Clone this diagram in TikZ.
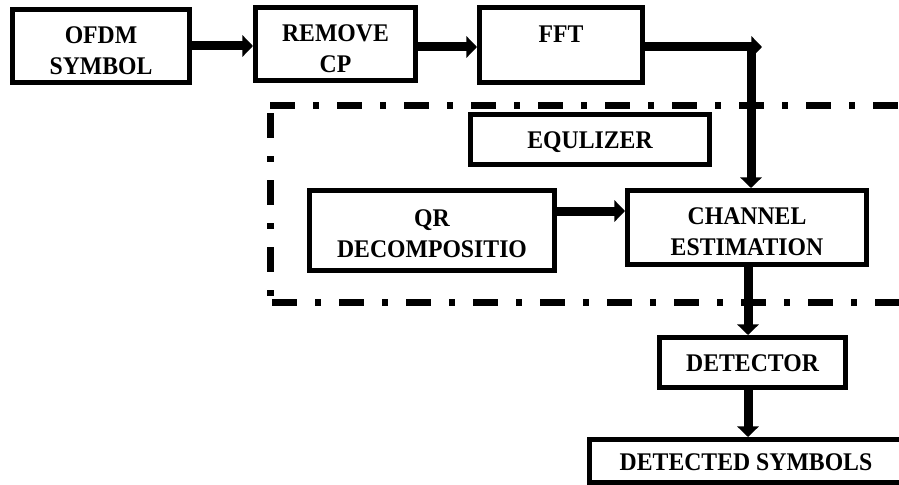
\documentclass[tikz,border=0pt]{standalone}
\usepackage{fontspec}
\usepackage{graphicx}
\setmainfont{Liberation Serif}
\usetikzlibrary{arrows.meta}
\newcommand\blktext[2][-10pt]{\raisebox{#1}[0pt][0pt]{\scalebox{1}[1.07]{\begin{tabular}{@{}c@{}}#2\end{tabular}}}}
\begin{document}
\begin{tikzpicture}[x=0.75pt,y=-0.75pt,
  blk/.style={draw, line width=3.75pt, rectangle, inner sep=0pt,
    font=\fontsize{17.8}{21.8}\selectfont\bfseries},
  arr/.style={line width=6.75pt, -{Triangle[width=16pt,length=8pt]}},
  boundary/.style={line width=5.25pt, dash pattern=on 18.75pt off 13.5pt on 4.5pt off 13.5pt}]
\useasboundingbox (0,0) rectangle (899,485);
% blocks
\node[blk, minimum width=132.75pt, minimum height=54.75pt] (ofdm) at (101,46) {\blktext{OFDM\\SYMBOL}};
\node[blk, minimum width=120pt, minimum height=54.75pt] (rem) at (335.5,44) {\blktext{REMOVE\\CP}};
\node[blk, minimum width=122.25pt, minimum height=56.25pt] (fft) at (561,45) {\blktext{FFT\\\phantom{X}}};
\node[blk, minimum width=179.25pt, minimum height=37.5pt] (eq) at (590,139.5) {\blktext[-6.9pt]{EQULIZER}};
\node[blk, minimum width=183.75pt, minimum height=60pt] (qr) at (432,230.5) {\blktext[-8.3pt]{QR\\DECOMPOSITIO}};
\node[blk, minimum width=179.25pt, minimum height=55.5pt] (chan) at (747,227.5) {\blktext[-9.6pt]{CHANNEL\\ESTIMATION}};
\node[blk, minimum width=139.5pt, minimum height=37.5pt] (det) at (752.5,362.5) {\blktext[-6.7pt]{DETECTOR}};
\node[blk, minimum width=234.75pt, minimum height=32.25pt] (dsym) at (746,461) {\blktext[-6.9pt]{DETECTED SYMBOLS}};
% boundary
\coordinate (b1) at (270,105);
\coordinate (b2) at (899,105);
\coordinate (b3) at (270,113);
\coordinate (b4) at (270,298);
\coordinate (b5) at (272,302);
\coordinate (b6) at (899,302);
\draw[boundary] (b1) -- (b2);
\draw[boundary] (b3) -- (b4);
\draw[boundary] (b5) -- (b6);
% connectors
\coordinate (corner) at (762,47);
\coordinate (drop) at (751,42);
\draw[arr] (ofdm.east) -- (ofdm.east -| rem.west);
\draw[arr] (rem.east |- 0,47) -- (fft.west |- 0,47);
\draw[arr] (fft.east |- 0,47) -- (corner);
\draw[arr] (drop) -- (drop |- chan.north);
\draw[arr] (qr.east |- 0,211) -- (chan.west |- 0,211);
\draw[arr] (chan.south -| 748,0) -- (det.north -| 748,0);
\draw[arr] (det.south -| 748,0) -- (dsym.north -| 748,0);
\end{tikzpicture}
\end{document}
